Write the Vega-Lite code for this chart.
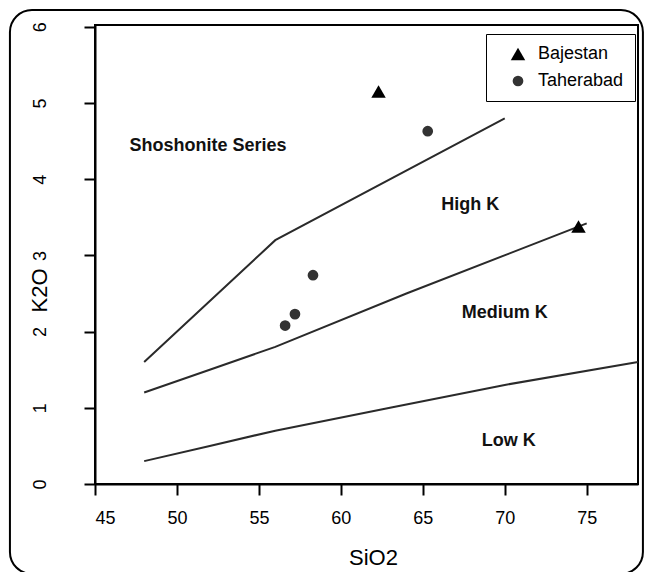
{
  "$schema": "https://vega.github.io/schema/vega-lite/v6.json",
  "autosize": {"type": "none"},
  "padding": {"left": 95, "top": 25, "right": 8, "bottom": 88},
  "width": 543,
  "height": 459,
  "background": "white",
  "config": {
    "font": "Liberation Sans",
    "view": {"stroke": "black", "strokeWidth": 2},
    "axis": {"grid": false, "domainColor": "black", "domainWidth": 2, "tickColor": "black", "tickWidth": 2, "tickSize": 11, "labelColor": "black", "labelFontSize": 18, "labelFont": "Liberation Sans", "titleFont": "Liberation Sans", "titleFontSize": 22, "titleFontWeight": "normal", "titleColor": "black"}
  },
  "datasets": {
    "lines": [
      {"series": "a", "SiO2": 48, "K2O": 1.6},
      {"series": "a", "SiO2": 56, "K2O": 3.2},
      {"series": "a", "SiO2": 70, "K2O": 4.8},
      {"series": "b", "SiO2": 48, "K2O": 1.2},
      {"series": "b", "SiO2": 52, "K2O": 1.5},
      {"series": "b", "SiO2": 56, "K2O": 1.8},
      {"series": "b", "SiO2": 64, "K2O": 2.5},
      {"series": "b", "SiO2": 75, "K2O": 3.42},
      {"series": "c", "SiO2": 48, "K2O": 0.3},
      {"series": "c", "SiO2": 52, "K2O": 0.5},
      {"series": "c", "SiO2": 56, "K2O": 0.7},
      {"series": "c", "SiO2": 63, "K2O": 1.0},
      {"series": "c", "SiO2": 70, "K2O": 1.3},
      {"series": "c", "SiO2": 78.13, "K2O": 1.6}
    ],
    "labels": [
      {"label": "Shoshonite Series", "SiO2": 51.9, "K2O": 4.44},
      {"label": "High K", "SiO2": 67.9, "K2O": 3.66},
      {"label": "Medium K", "SiO2": 70.0, "K2O": 2.25},
      {"label": "Low K", "SiO2": 70.25, "K2O": 0.56}
    ],
    "points": [
      {"group": "Bajestan", "SiO2": 62.3, "K2O": 5.15},
      {"group": "Bajestan", "SiO2": 74.5, "K2O": 3.38},
      {"group": "Taherabad", "SiO2": 65.3, "K2O": 4.63},
      {"group": "Taherabad", "SiO2": 56.6, "K2O": 2.08},
      {"group": "Taherabad", "SiO2": 57.2, "K2O": 2.23},
      {"group": "Taherabad", "SiO2": 58.3, "K2O": 2.74}
    ]
  },
  "layer": [
    {
      "data": {"values": [{}]},
      "mark": {"type": "rect", "clip": false, "fill": null, "fillOpacity": 0, "stroke": "black", "strokeWidth": 2, "cornerRadius": 22},
      "encoding": {
        "x": {"datum": 39.81, "type": "quantitative"},
        "x2": {"datum": 78.43},
        "y": {"datum": 6.22, "type": "quantitative"},
        "y2": {"datum": -1.18}
      }
    },
    {
      "data": {"name": "lines"},
      "mark": {"type": "line", "color": "#2a2a2a", "strokeWidth": 2},
      "encoding": {
        "x": {"field": "SiO2", "type": "quantitative", "scale": {"domain": [45, 78.13], "zero": false, "nice": false},
          "axis": {"title": "SiO2", "values": [45, 50, 55, 60, 65, 70, 75], "labelPadding": 14, "titleBaseline": "middle", "titleY": 73, "titleX": 278}},
        "y": {"field": "K2O", "type": "quantitative", "scale": {"domain": [0, 6.024], "nice": false},
          "axis": {"title": "K2O", "values": [0, 1, 2, 3, 4, 5, 6], "format": "d", "labelAngle": -90, "labelAlign": "center", "labelBaseline": "bottom", "labelPadding": 35, "titleAngle": -90, "titleBaseline": "middle", "titleAlign": "center", "titleX": -56, "titleY": 265}},
        "detail": {"field": "series"}
      }
    },
    {
      "data": {"name": "labels"},
      "mark": {"type": "text", "font": "Liberation Sans", "fontWeight": "bold", "fontSize": 18, "color": "#111111", "align": "center", "baseline": "middle"},
      "encoding": {
        "x": {"field": "SiO2", "type": "quantitative"},
        "y": {"field": "K2O", "type": "quantitative"},
        "text": {"field": "label"}
      }
    },
    {
      "data": {"name": "points"},
      "mark": {"type": "point", "filled": true, "opacity": 1, "strokeWidth": 0},
      "encoding": {
        "x": {"field": "SiO2", "type": "quantitative"},
        "y": {"field": "K2O", "type": "quantitative"},
        "shape": {"field": "group", "type": "nominal", "scale": {"domain": ["Bajestan", "Taherabad"], "range": ["triangle-up", "circle"]},
          "legend": {"title": null, "orient": "none", "legendX": 391, "legendY": 9, "strokeColor": "black", "fillColor": "white", "padding": 11, "rowPadding": 9, "labelFontSize": 18, "labelColor": "black", "labelFont": "Liberation Sans", "symbolOffset": 12, "labelOffset": 11, "symbolSize": 170, "symbolStrokeWidth": 0}},
        "color": {"field": "group", "type": "nominal", "scale": {"domain": ["Bajestan", "Taherabad"], "range": ["#000000", "#333333"]},
          "legend": {"title": null, "orient": "none", "legendX": 391, "legendY": 9, "strokeColor": "black", "fillColor": "white", "padding": 11, "rowPadding": 9, "labelFontSize": 18, "labelColor": "black", "labelFont": "Liberation Sans", "symbolOffset": 12, "labelOffset": 11, "symbolSize": 170, "symbolStrokeWidth": 0}},
        "size": {"field": "group", "type": "nominal", "scale": {"domain": ["Bajestan", "Taherabad"], "range": [210, 115]}, "legend": null}
      }
    }
  ]
}
